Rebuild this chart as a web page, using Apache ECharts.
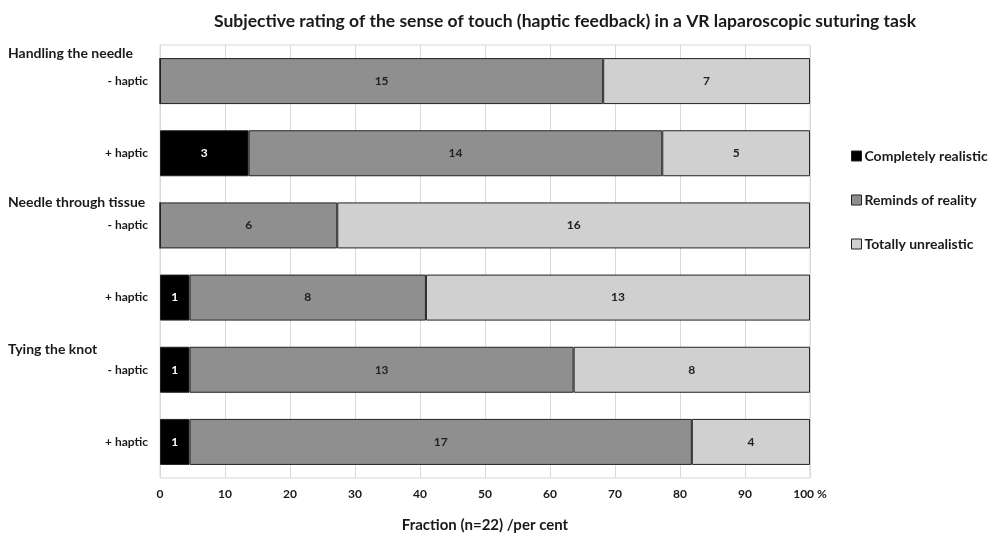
<!DOCTYPE html>
<html>
<head>
<meta charset="utf-8">
<script src="https://cdn.jsdelivr.net/npm/echarts@6/dist/echarts.min.js"></script>
<style>
  html, body { margin: 0; padding: 0; background: #fff; }
  #chart { width: 995px; height: 538px; }
</style>
</head>
<body>
<div id="chart"></div>
<script>
// rows, top to bottom
var rows = ['- haptic', '+ haptic', '- haptic', '+ haptic', '- haptic', '+ haptic']
var groups = ['Handling the needle', 'Needle through tissue', 'Tying the knot']
var total = 22
// counts per rating (n=22)
var realistic = [0, 3, 0, 1, 1, 1]
var reminds = [15, 14, 6, 8, 13, 17]
var unrealistic = [7, 5, 16, 13, 8, 4]
var xTicks = [0, 10, 20, 30, 40, 50, 60, 70, 80, 90, 100]

var FONT = 'Lato'
var chart = echarts.init(document.getElementById('chart'))

function pct(arr) {
  return arr.map(function(v) { return v / total * 100 })
}

function makeSeries(name, counts, color, labelColor) {
  return {
    name: name,
    type: 'bar',
    stack: 'all',
    barWidth: 46,
    data: pct(counts),
    itemStyle: { color: color, borderColor: '#222', borderWidth: 1 },
    label: {
      show: true,
      position: 'inside',
      color: labelColor,
      fontFamily: FONT,
      fontWeight: 'bold',
      fontSize: 12,
      formatter: function(p) {
        var c = counts[p.dataIndex]
        return c ? String(c) : ''
      }
    }
  }
}

var groupText = groups.map(function(g, i) {
  return {
    type: 'text',
    left: 8,
    top: [46, 195, 342][i],
    style: { text: g, font: 'bold 14px ' + FONT, fill: '#1a1a1a' }
  }
})

chart.setOption({
  animation: false,
  title: {
    text: 'Subjective rating of the sense of touch (haptic feedback) in a VR laparoscopic suturing task',
    left: 560,
    textAlign: 'center',
    top: 7,
    textStyle: { fontFamily: FONT, fontWeight: 'bold', fontSize: 17.5, color: '#1a1a1a' }
  },
  legend: {
    orient: 'vertical',
    left: 846,
    top: 144,
    itemWidth: 10,
    itemHeight: 10,
    itemGap: 30,
    icon: 'rect',
    itemStyle: { borderColor: '#222', borderWidth: 1 },
    textStyle: { fontFamily: FONT, fontWeight: 'bold', fontSize: 14, color: '#1a1a1a', padding: [0, 0, 0, -2] },
    data: ['Completely realistic', 'Reminds of reality', 'Totally unrealistic']
  },
  graphic: groupText,
  grid: {
    left: 160, right: 185, top: 45, height: 438,
    show: true, borderColor: '#d9d9d9', borderWidth: 1
  },
  xAxis: {
    type: 'value',
    min: 0, max: 100, interval: 10,
    name: 'Fraction (n=22) /per cent',
    nameLocation: 'middle',
    nameGap: 40,
    nameTextStyle: { fontFamily: FONT, fontWeight: 'bold', fontSize: 15, color: '#1a1a1a' },
    axisLine: { show: false },
    axisTick: { show: false },
    splitLine: { lineStyle: { color: '#d9d9d9', width: 1 } },
    axisLabel: {
      margin: 10,
      fontFamily: FONT, fontWeight: 'bold', fontSize: 12, color: '#1a1a1a',
      formatter: function(v) { return v === 100 ? '100 %' : String(v) }
    }
  },
  yAxis: {
    type: 'category',
    inverse: true,
    data: rows,
    axisLine: { show: false },
    axisTick: { show: false },
    axisLabel: { margin: 12, fontFamily: FONT, fontWeight: 'bold', fontSize: 12, color: '#1a1a1a' }
  },
  series: [
    makeSeries('Completely realistic', realistic, '#000000', '#ffffff'),
    makeSeries('Reminds of reality', reminds, '#8f8f8f', '#222222'),
    makeSeries('Totally unrealistic', unrealistic, '#d0d0d0', '#222222')
  ]
})
</script>
</body>
</html>
